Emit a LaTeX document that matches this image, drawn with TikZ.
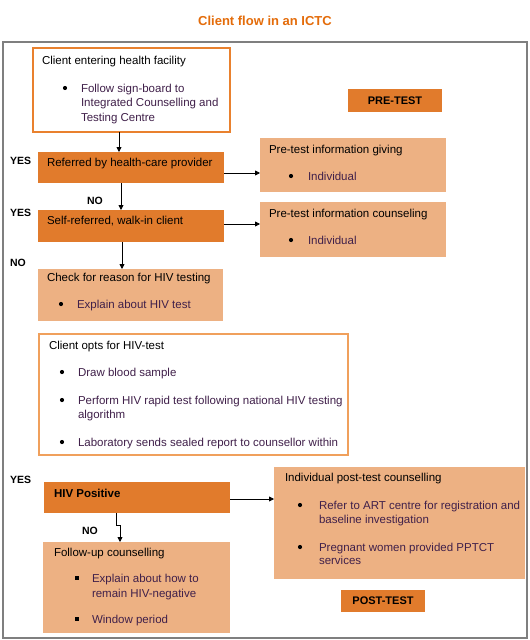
\documentclass[tikz,border=0pt]{standalone}
\usepackage{fontspec}
\setmainfont{Liberation Sans}
\usetikzlibrary{arrows.meta}
\definecolor{dorange}{HTML}{E17B2C}
\definecolor{lorange}{HTML}{EDB183}
\definecolor{bord1}{HTML}{E9812E}
\definecolor{bord2}{HTML}{F0A05C}
\definecolor{titleor}{HTML}{E46C0A}
\definecolor{itemcol}{HTML}{40204A}
\definecolor{framecol}{HTML}{7F7F7F}
\begin{document}
\begin{tikzpicture}[x=1pt,y=-1pt,
  every node/.style={inner sep=0pt, outer sep=0pt},
  boxbase/.style={anchor=north west, draw=none},
  darkbox/.style={boxbase, fill=dorange},
  lightbox/.style={boxbase, fill=lorange},
  whitebox/.style={boxbase, fill=white, line width=1.5pt},
  txt/.style={anchor=base west, font=\fontsize{11.5}{14}\selectfont, text=black},
  itm/.style={txt, text=itemcol},
  bul/.style={circle, fill=black, minimum size=4.2pt, inner sep=0pt, anchor=center},
  lbl/.style={anchor=base west, font=\bfseries\fontsize{10.5}{12}\selectfont},
  arr/.style={-{Triangle[length=5pt,width=5pt]}, line width=0.8pt, black},
  sq/.style={anchor=center, fill=black, minimum size=3.2pt, inner sep=0pt}
]
\useasboundingbox (0,0) rectangle (530,640);
\fill[white] (0,0) rectangle (530,640);

% title and frame
\node[font=\bfseries\fontsize{13}{15}\selectfont, text=titleor] (title) at (265,21) {Client flow in an ICTC};
\draw[framecol, line width=1.3pt] (3,42) rectangle (527,638);

% boxes
\node[whitebox, draw=bord1, minimum width=197pt, minimum height=84pt] (box1) at (33,48) {};
\node[darkbox, minimum width=94pt, minimum height=23pt, font=\bfseries\fontsize{11}{13}\selectfont] (pre) at (348,89) {PRE-TEST};
\node[darkbox, minimum width=186pt, minimum height=31pt] (ref) at (38,152) {};
\node[lightbox, minimum width=186pt, minimum height=54pt] (giv) at (260,138) {};
\node[darkbox, minimum width=186pt, minimum height=32pt] (self) at (38,210) {};
\node[lightbox, minimum width=186pt, minimum height=55pt] (cou) at (260,202) {};
\node[lightbox, minimum width=185pt, minimum height=52pt] (chk) at (38,269) {};
\node[whitebox, draw=bord2, minimum width=309pt, minimum height=121pt] (opts) at (39,334) {};
\node[darkbox, minimum width=186pt, minimum height=31pt] (hiv) at (44,482) {};
\node[lightbox, minimum width=251pt, minimum height=112pt] (post) at (274,467) {};
\node[darkbox, minimum width=84pt, minimum height=22pt, font=\bfseries\fontsize{11}{13}\selectfont] (posttest) at (341,590) {POST-TEST};
\node[lightbox, minimum width=187pt, minimum height=91pt] (fol) at (43,542) {};

% box 1 text
\node[txt] (b1t) at (42,64) {Client entering health facility};
\node[bul] (b1b) at (65,88) {};
\node[itm] (b1l1) at (81,92) {Follow sign-board to};
\node[itm] (b1l2) at (81,106) {Integrated Counselling and};
\node[itm] (b1l3) at (81,121) {Testing Centre};

% ref / self
\node[txt] (reft) at (47,166) {Referred by health-care provider};
\node[txt] (selft) at (47,224) {Self-referred, walk-in client};

% pre-test info boxes
\node[txt] (givt) at (269,153) {Pre-test information giving};
\node[bul] (givb) at (291,176) {};
\node[itm] (givi) at (308,180) {Individual};
\node[txt] (cout) at (269,217) {Pre-test information counseling};
\node[bul] (coub) at (291,240) {};
\node[itm] (coui) at (308,244) {Individual};

% check box
\node[txt] (chkt) at (47,281) {Check for reason for HIV testing};
\node[bul] (chkb) at (61,304) {};
\node[itm] (chki) at (77,308) {Explain about HIV test};

% labels
\node[lbl] (yes1) at (10,164) {YES};
\node[lbl] (no1) at (87,204) {NO};
\node[lbl] (yes2) at (10,216) {YES};
\node[lbl] (no2) at (10,266) {NO};
\node[lbl] (yes3) at (10,483) {YES};
\node[lbl] (no3) at (82,534) {NO};

% opts box
\node[txt] (optt) at (49,349) {Client opts for HIV-test};
\node[bul] (ob1) at (62,372) {};
\node[itm] (oi1) at (78,376) {Draw blood sample};
\node[bul] (ob2) at (62,400) {};
\node[itm] (oi2) at (78,404) {Perform HIV rapid test following national HIV testing};
\node[itm] (oi2b) at (78,418) {algorithm};
\node[bul] (ob3) at (62,442) {};
\node[itm] (oi3) at (78,446) {Laboratory sends sealed report to counsellor within};

% HIV positive
\node[txt, font=\bfseries\fontsize{11.5}{14}\selectfont] (hivt) at (54,497) {HIV Positive};

% post-test counselling
\node[txt] (postt) at (285,481) {Individual  post-test counselling};
\node[bul] (pb1) at (300,505) {};
\node[itm] (pi1) at (319,509) {Refer to ART centre for registration and};
\node[itm] (pi1b) at (319,523) {baseline investigation};
\node[bul] (pb2) at (300,547) {};
\node[itm] (pi2) at (319,551) {Pregnant women provided PPTCT};
\node[itm] (pi2b) at (319,564) {services};

% follow-up
\node[txt] (folt) at (54,556) {Follow-up counselling};
\node[sq] (fb1) at (77,578) {};
\node[itm] (fi1) at (92,582) {Explain about how to};
\node[itm] (fi1b) at (92,597) {remain HIV-negative};
\node[sq] (fb2) at (77,619) {};
\node[itm] (fi2) at (92,623) {Window period};

% connectors
\draw[arr] (119,0 |- box1.south) -- (119,0 |- ref.north);
\draw[arr] (121,0 |- ref.south) -- (121,0 |- self.north);
\draw[arr] (122,0 |- self.south) -- (122,0 |- chk.north);
\draw[arr] (ref.east |- 0,173) -- (giv.west |- 0,173);
\draw[arr] (self.east |- 0,224) -- (cou.west |- 0,224);
\draw[arr] (hiv.east |- 0,499) -- (post.west |- 0,499);
\coordinate (j1) at (116,525);
\coordinate (j2) at (120,525);
\draw[arr] (116,0 |- hiv.south) -- (j1) -- (j2) -- (120,0 |- fol.north);
\end{tikzpicture}
\end{document}
